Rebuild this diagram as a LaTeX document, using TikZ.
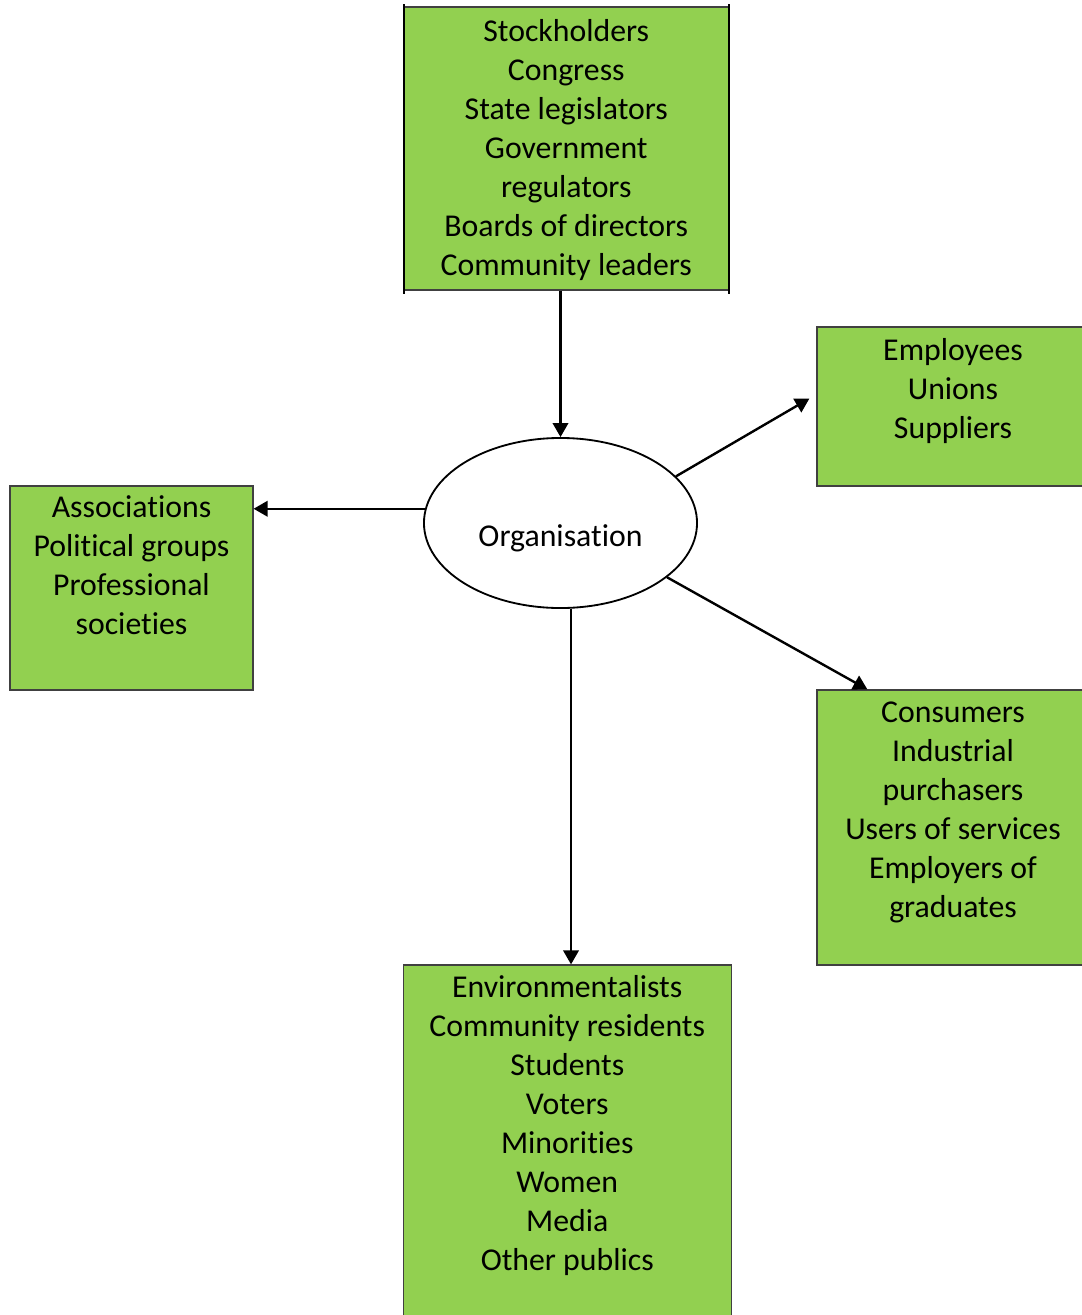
\documentclass[tikz,border=0pt]{standalone}
\usepackage{fontspec}
\setmainfont{Carlito}[Ligatures=NoCommon]
\usetikzlibrary{shapes.geometric,arrows.meta,positioning,calc}

\definecolor{boxgreen}{HTML}{92D050}
\definecolor{boxline}{HTML}{404040}

\tikzset{
  grpbox/.style={draw=boxline, fill=boxgreen, line width=0.8pt, inner sep=0pt},
  grptext/.style={font=\fontsize{22.6}{27.7}\selectfont, align=center, inner sep=0pt, execute at begin node=\strut},
  flow/.style={-{Triangle[length=10pt,width=11pt]}, line width=1.7pt}
}

\begin{document}
\begin{tikzpicture}[x=0.025cm, y=-0.025cm]
\useasboundingbox (0,0) rectangle (1081,1315);

% the five groups round the organisation
\node[grpbox, minimum width=8.09cm, minimum height=7.075cm] (stake) at (566.25,148.5) {};
\node[grpbox, minimum width=6.8cm, minimum height=3.975cm] (emp) at (953,406.5) {};
\node[grpbox, minimum width=6.075cm, minimum height=5.1cm] (assoc) at (131.5,588) {};
\node[grpbox, minimum width=6.8cm, minimum height=6.875cm] (cons) at (953,827.5) {};
\node[grpbox, minimum width=8.19cm, minimum height=9cm] (env) at (567.25,1145) {};

\draw[line width=1.4pt] ($(stake.north west)+(0,-2)$) -- ($(stake.south west)+(0,3)$);
\draw[line width=1.4pt] ($(stake.north east)+(0,-2)$) -- ($(stake.south east)+(0,3)$);

\node[grptext, below=0.315cm of stake.north] (staketext) {Stockholders\\Congress\\State legislators\\Government\\regulators\\Boards of directors\\Community leaders};
\node[grptext, below=0.29cm of emp.north] (emptext) {Employees\\Unions\\Suppliers};
\node[grptext, below=0.24cm of assoc.north] (assoctext) {Associations\\Political groups\\Professional\\societies};
\node[grptext, below=0.315cm of cons.north] (constext) {Consumers\\Industrial\\purchasers\\Users of services\\Employers of\\graduates};
\node[grptext, below=0.265cm of env.north] (envtext) {Environmentalists\\Community residents\\Students\\Voters\\Minorities\\Women\\Media\\Other publics};

% centre
\node[draw, ellipse, line width=1.3pt, minimum width=6.825cm, minimum height=4.25cm, inner sep=0pt,
  font=\fontsize{22.6}{27.7}\selectfont, text height=33pt, text depth=0pt] (org) at (560.5,523) {Organisation};

% arrows
\draw[flow] (stake.south -| org.north) -- (org.north);
\draw[flow] (org.174.5) -- (org.174.5 -| assoc.east);
\draw[flow] (org.22.7) -- ($(emp.west)+(-7,-8)$);
\draw[flow] (org.333.8) -- ($(cons.north west)+(51,0)$);
\draw[flow] (org.277) -- (org.277 |- env.north);
\end{tikzpicture}
\end{document}
